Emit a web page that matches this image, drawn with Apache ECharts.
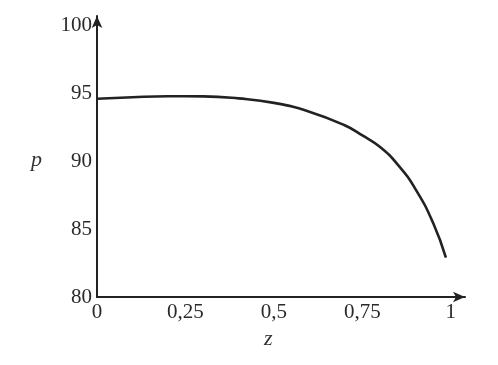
<!DOCTYPE html>
<html>
<head>
<meta charset="utf-8">
<script src="https://cdn.jsdelivr.net/npm/echarts@6/dist/echarts.min.js"></script>
<style>
html,body{margin:0;padding:0;background:#fff;}
#chart{width:498px;height:365px;}
</style>
</head>
<body>
<div id="chart"></div>
<script>
// Data
const zValues = [0, 0.1, 0.2, 0.3, 0.4, 0.5, 0.6, 0.7, 0.75, 0.8, 0.85, 0.9, 0.95, 0.986];
const pValues = [94.6, 94.72, 94.79, 94.78, 94.63, 94.3, 93.65, 92.65, 91.9, 91.05, 89.75, 87.95, 85.45, 82.9];
const xTickLabels = ['0', '0,25', '0,5', '0,75', '1'];
const yTickLabels = ['80', '85', '90', '95', '100'];
const xName = 'z';
const yName = 'p';

const chart = echarts.init(document.getElementById('chart'), null, {renderer: 'canvas'});
const font = '"Liberation Serif", "DejaVu Serif", serif';
const xTicks = [0, 0.25, 0.5, 0.75, 1];
const yTicks = [80, 85, 90, 95, 100];

chart.setOption({
  backgroundColor: '#fff',
  animation: false,
  grid: {left: 97, right: 33, top: 16, bottom: 68, containLabel: false},
  xAxis: {
    type: 'value', min: 0, max: 1.04, interval: 0.25,
    axisLine: {show: true, lineStyle: {color: '#222', width: 2}, symbol: ['none', 'arrow'], symbolSize: [8, 12]},
    axisTick: {show: false},
    splitLine: {show: false},
    axisLabel: {
      color: '#2a2a2a', fontFamily: font, fontSize: 21, margin: 5,
      formatter: function (v) {
        const i = xTicks.findIndex(t => Math.abs(t - v) < 1e-6);
        return i >= 0 ? xTickLabels[i] : '';
      }
    }
  },
  yAxis: {
    type: 'value', min: 80, max: 100.7, interval: 5,
    axisLine: {show: true, lineStyle: {color: '#222', width: 2}, symbol: ['none', 'arrow'], symbolSize: [8, 12]},
    axisTick: {show: false},
    splitLine: {show: false},
    axisLabel: {
      color: '#2a2a2a', fontFamily: font, fontSize: 21, margin: 5,
      formatter: function (v) {
        const i = yTicks.findIndex(t => Math.abs(t - v) < 1e-6);
        return i >= 0 ? yTickLabels[i] : '';
      }
    }
  },
  graphic: [
    {type: 'text', left: 31, top: 149, style: {text: yName, font: 'italic 22px ' + font, fill: '#333'}},
    {type: 'text', left: 264, top: 328, style: {text: xName, font: 'italic 22px ' + font, fill: '#333'}}
  ],
  series: [{
    type: 'line',
    data: zValues.map((z, i) => [z, pValues[i]]),
    smooth: 0.5,
    showSymbol: false,
    lineStyle: {color: '#222', width: 2.6}
  }]
});
</script>
</body>
</html>
